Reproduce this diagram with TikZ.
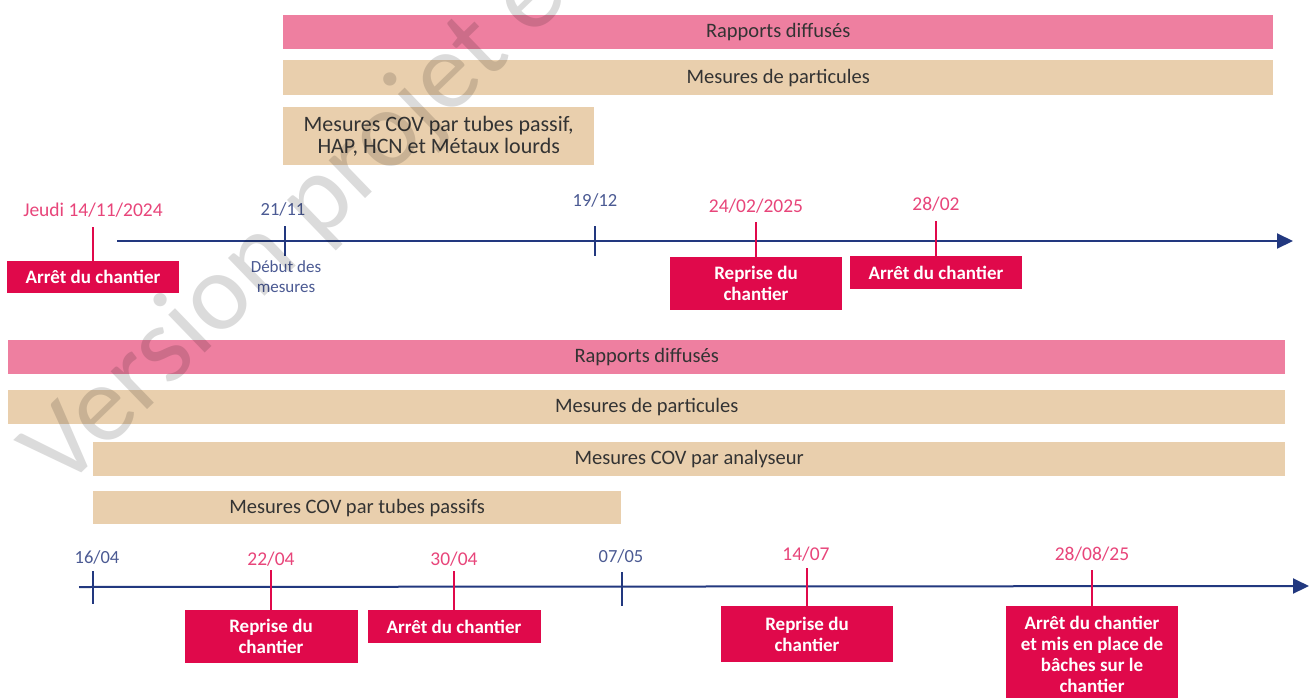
\documentclass[tikz,border=0pt]{standalone}
\usepackage{fontspec}
\setmainfont{Carlito}
\usetikzlibrary{arrows.meta}
\definecolor{barpink}{HTML}{EE7FA0}
\definecolor{bartan}{HTML}{E9CFAD}
\definecolor{boxred}{HTML}{E0094B}
\definecolor{navy}{HTML}{22387F}
\definecolor{datepink}{HTML}{E8457A}
\definecolor{datenavy}{HTML}{4B5A93}
\definecolor{bartext}{HTML}{333333}
\begin{document}
\begin{tikzpicture}[x=1pt,y=-1pt,
  bar/.style={anchor=north west, inner sep=0pt, font=\fontsize{20.5}{22}\selectfont, text=bartext, align=center},
  pinkbar/.style={bar, fill=barpink},
  tanbar/.style={bar, fill=bartan},
  event/.style={anchor=north, fill=boxred, text=white, inner sep=0pt, align=center, minimum width=172pt, font=\bfseries\fontsize{19}{21}\selectfont},
  datep/.style={anchor=base, text=datepink, inner sep=0pt, font=\fontsize{19.5}{22}\selectfont},
  daten/.style={anchor=base, text=datenavy, inner sep=0pt, font=\fontsize{18.5}{22}\selectfont},
  axisline/.style={draw=navy, line width=2pt, -{Triangle[length=16pt,width=15pt]}},
  tickline/.style={draw=navy, line width=2pt},
  pinkline/.style={draw=boxred, line width=1.5pt},
]
\useasboundingbox (0,0) rectangle (1310,697);
\clip (0,0) rectangle (1310,697);
\fill[white] (0,0) rectangle (1310,697);

% ---------- top section ----------
\node[pinkbar, minimum width=990pt, minimum height=34pt] (tr) at (283,15) {Rapports diffusés};
\node[tanbar, minimum width=990pt, minimum height=35pt] (tp) at (283,60) {Mesures de particules};
\node[tanbar, minimum width=311pt, minimum height=58pt, font=\fontsize{22}{22}\selectfont] (tc) at (283,107) {Mesures COV par tubes passif,\\HAP, HCN et Métaux lourds};

\coordinate (a1s) at (117,241);
\coordinate (a1e) at (1293,241);
\draw[axisline] (a1s) -- (a1e);

\coordinate (k1t) at (285,226); \coordinate (k1b) at (285,256);
\coordinate (k2t) at (595,226); \coordinate (k2b) at (595,256);
\draw[tickline] (k1t) -- (k1b);
\draw[tickline] (k2t) -- (k2b);
\node[daten] (l1) at (283,215) {21/11};
\node[daten] (l2) at (595,206) {19/12};
\node[anchor=north, text=datenavy, align=center, inner sep=0pt, font=\fontsize{17}{20}\selectfont] (deb) at (286,260) {Début des\\mesures};

\node[datep] (d1) at (93,216) {Jeudi 14/11/2024};
\node[datep] (d2) at (756,212) {24/02/2025};
\node[datep] (d3) at (936,210) {28/02};

\node[event, minimum height=32pt] (b1) at (93,261) {Arrêt du chantier};
\node[event, minimum height=53pt] (b2) at (756,257) {Reprise du\\chantier};
\node[event, minimum height=33pt] (b3) at (936,256) {Arrêt du chantier};

\coordinate (c1) at (93,227);
\coordinate (c2) at (756,222);
\coordinate (c3) at (936,221);
\draw[pinkline] (c1) -- (b1.north);
\draw[pinkline] (c2) -- (b2.north);
\draw[pinkline] (c3) -- (b3.north);

% ---------- bottom section ----------
\node[pinkbar, minimum width=1277pt, minimum height=34pt] (br) at (8,340) {Rapports diffusés};
\node[tanbar, minimum width=1277pt, minimum height=34pt] (bp) at (8,390) {Mesures de particules};
\node[tanbar, minimum width=1192pt, minimum height=34pt] (ba) at (93,442) {Mesures COV par analyseur};
\node[tanbar, minimum width=528pt, minimum height=33pt] (bt) at (93,491) {Mesures COV par tubes passifs};

\coordinate (a2s) at (79,587);
\coordinate (a2e) at (1309,586);
\draw[axisline] (a2s) -- (a2e);

\coordinate (k3t) at (93,571); \coordinate (k3b) at (93,604);
\coordinate (k4t) at (622,572); \coordinate (k4b) at (622,606);
\draw[tickline] (k3t) -- (k3b);
\draw[tickline] (k4t) -- (k4b);
\node[daten] (l3) at (97,563) {16/04};
\node[daten] (l4) at (621,562) {07/05};

\node[datep] (d4) at (271,565) {22/04};
\node[datep] (d5) at (454,565) {30/04};
\node[datep] (d6) at (806,560) {14/07};
\node[datep] (d7) at (1092,560) {28/08/25};

\node[event, minimum width=173pt, minimum height=53pt] (e1) at (271,610) {Reprise du\\chantier};
\node[event, minimum width=173pt, minimum height=33pt] (e2) at (454,610) {Arrêt du chantier};
\node[event, minimum height=56pt] (e3) at (807,606) {Reprise du\\chantier};
\node[event, minimum height=96pt] (e4) at (1092,606) {Arrêt du chantier\\et mis en place de\\bâches sur le\\chantier};

\coordinate (c4) at (271,570);
\coordinate (c5) at (454,571);
\coordinate (c6) at (807,568);
\coordinate (c7) at (1092,570);
\draw[pinkline] (c4) -- (e1.north);
\draw[pinkline] (c5) -- (e2.north);
\draw[pinkline] (c6) -- (e3.north);
\draw[pinkline] (c7) -- (e4.north);

% ---------- watermark ----------
\node[rotate=44, anchor=base west, inner sep=0pt, text=black, opacity=0.14, font=\fontsize{110}{110}\selectfont] (wm) at (62,492) {Version projet e};
\end{tikzpicture}
\end{document}
